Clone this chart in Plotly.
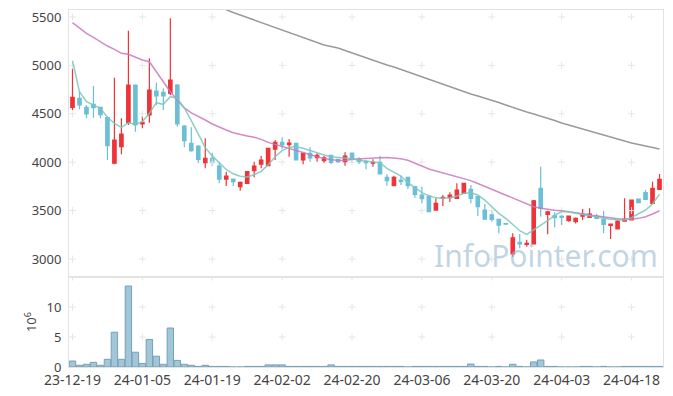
import plotly.graph_objects as go
from plotly.subplots import make_subplots

dates = ["23-12-19","23-12-20","23-12-21","23-12-22","23-12-26","23-12-27","23-12-28",
         "24-01-02","24-01-03","24-01-04","24-01-05","24-01-08","24-01-09","24-01-10","24-01-11","24-01-12",
         "24-01-15","24-01-16","24-01-17","24-01-18","24-01-19","24-01-22","24-01-23","24-01-24","24-01-25",
         "24-01-26","24-01-29","24-01-30","24-01-31","24-02-01","24-02-02","24-02-05","24-02-06","24-02-07",
         "24-02-08","24-02-13","24-02-14","24-02-15","24-02-16","24-02-19","24-02-20","24-02-21","24-02-22",
         "24-02-23","24-02-26","24-02-27","24-02-28","24-02-29","24-03-04","24-03-05","24-03-06","24-03-07",
         "24-03-08","24-03-11","24-03-12","24-03-13","24-03-14","24-03-15","24-03-18","24-03-19","24-03-20",
         "24-03-21","24-03-22","24-03-25","24-03-26","24-03-27","24-03-28","24-03-29","24-04-01","24-04-02",
         "24-04-03","24-04-04","24-04-05","24-04-08","24-04-09","24-04-11","24-04-12","24-04-15","24-04-16",
         "24-04-17","24-04-18","24-04-19","24-04-22","24-04-23","24-04-24"]

open_ = [4567,4660,4567,4598,4567,4460,3989,4160,4408,4797,4395,4488,4735,4722,4712,4797,4374,4195,4167,3995,
         4040,3961,3826,3826,3747,3782,3912,3981,3964,4136,4206,4181,4195,4023,4092,4046,4015,4071,4030,4005,
         4095,4030,4005,3989,3999,3844,3757,3816,3844,3747,3661,3651,3506,3630,3633,3627,3679,3720,3644,3506,
         3455,3410,3365,3052,3173,3152,3155,3730,3462,3447,3440,3396,3385,3444,3431,3444,3410,3348,3310,3392,
         3403,3620,3685,3575,3720]
high = [4970,4728,4591,4787,4574,4470,4873,4453,5358,4797,4477,5073,4821,4763,5486,4808,4384,4360,4175,4247,
        4098,4005,3902,3830,3800,3909,4005,4064,4150,4229,4257,4240,4200,4095,4154,4092,4064,4075,4035,4102,
        4100,4050,4023,4030,4067,3875,3860,3860,3850,3750,3747,3651,3627,3661,3689,3782,3785,3764,3650,3568,
        3506,3415,3368,3265,3258,3196,3610,3953,3499,3482,3455,3450,3430,3517,3524,3465,3496,3365,3400,3627,
        3615,3625,3713,3799,3878]
low = [4539,4546,4453,4460,4453,4023,3978,4081,4384,4315,4350,4408,4591,4539,4694,4367,4154,4108,3989,3937,
       3961,3782,3754,3754,3705,3775,3844,3937,3964,4023,4133,4057,4020,3978,4005,4005,3995,3981,3995,3964,
       3995,3981,3927,3954,3875,3757,3757,3764,3723,3633,3575,3489,3506,3547,3589,3627,3679,3575,3444,3413,
       3385,3265,3358,3024,3111,3127,3150,3437,3255,3327,3351,3385,3368,3403,3430,3410,3265,3207,3305,3390,
       3403,3580,3615,3575,3715]
close = [4670,4591,4498,4563,4491,4170,4229,4291,4797,4384,4412,4746,4684,4684,4849,4395,4222,4119,4030,4040,
         3995,3826,3857,3799,3792,3902,3961,4023,4144,4206,4178,4198,4023,4092,4045,4071,4046,3999,4002,4064,
         4030,4005,3995,3999,3878,3809,3844,3799,3757,3668,3623,3489,3575,3637,3661,3713,3782,3627,3540,3413,
         3410,3351,3360,3220,3155,3162,3602,3524,3486,3427,3430,3444,3420,3465,3465,3420,3358,3362,3392,3413,
         3609,3582,3617,3730,3823]

ma5 = [5049,4728,4625,4591,4557,4464,4402,4360,4408,4391,4418,4505,4615,4598,4677,4660,4560,4430,4290,4150,
       4065,3990,3925,3880,3855,3848,3870,3905,3975,4057,4119,4154,4160,4144,4119,4092,4074,4057,4050,4040,
       4035,4020,4012,4008,3995,3937,3896,3857,3788,3735,3685,3655,3632,3627,3633,3650,3679,3685,3661,3609,
       3540,3472,3420,3351,3292,3255,3300,3351,3396,3450,3490,3486,3472,3462,3447,3437,3420,3410,3403,3403,
       3427,3465,3506,3568,3671]
ma20 = [5441,5390,5331,5290,5245,5200,5166,5125,5114,5083,5056,5038,4935,4820,4728,4643,4560,4510,4477,4436,
        4395,4360,4333,4305,4284,4271,4257,4236,4205,4185,4165,4145,4125,4100,4080,4055,4040,4025,4020,4018,
        4030,4032,4036,4040,4045,4048,4045,4035,4020,3990,3960,3930,3910,3890,3875,3855,3835,3810,3780,3750,
        3727,3697,3667,3637,3605,3572,3540,3525,3513,3505,3498,3490,3478,3468,3455,3444,3432,3422,3415,3410,
        3410,3420,3437,3465,3499]
ma_long = [None]*20 + [5634,5603,5572,5546,5520,5494,5469,5443,5417,5391,5366,5340,5314,5288,5262,5237,5211,
           5195,5180,5154,5128,5102,5076,5050,5025,5004,4983,4957,4932,4906,4880,4854,4828,4802,4777,4751,
           4725,4704,4684,4663,4643,4617,4591,4565,4539,4518,4498,4477,4457,4431,4405,4384,4364,4343,4322,
           4302,4281,4260,4240,4219,4198,4183,4167,4152,4136]

volume_m = [1.0,0.28,0.45,0.78,0.28,1.28,5.8,1.28,13.5,2.46,0.6,4.6,1.8,0.45,6.5,1.1,0.45,0.28,0.1,0.28,
            0.1,0.1,0.1,0,0,0.1,0.1,0.1,0.35,0.35,0.35,0.1,0.1,0.1,0.1,0.1,0.1,0.35,0.1,0.1,
            0.1,0.1,0.1,0.1,0.1,0.1,0.1,0.1,0,0.1,0.1,0.1,0.1,0.1,0.1,0.1,0.1,0.5,0.1,0.1,
            0,0.1,0,0.45,0.1,0,0.84,1.17,0.1,0.1,0,0,0,0.1,0.1,0,0.1,0,0,0.1,
            0.1,0.1,0.1,0.1,0.1]

price_ticks = [3000, 3500, 4000, 4500, 5000, 5500]
vol_ticks = [0, 5, 10]
vol_grid = [5, 10, 15]
x_ticks = dates[::10]

UP = "#ee3339"
DOWN = "#6bbfd7"
FONT = "Noto Sans"

fig = make_subplots(rows=2, cols=1, shared_xaxes=True, vertical_spacing=0,
                    row_heights=[0.748, 0.252])

fig.add_trace(go.Scatter(x=dates, y=ma_long, mode="lines", line=dict(color="#9a9a9a", width=1.5),
                         showlegend=False, connectgaps=False), row=1, col=1)
fig.add_trace(go.Bar(x=dates, y=volume_m, showlegend=False,
                     marker=dict(color="rgba(140,184,205,0.8)", line=dict(color="rgba(115,160,186,1)", width=1))),
              row=2, col=1)

# grid crosses
gx = [d for d in x_ticks for _ in price_ticks]
gy = [p for _ in x_ticks for p in price_ticks]
fig.add_trace(go.Scatter(x=gx, y=gy, mode="markers", hoverinfo="skip", showlegend=False,
                         marker=dict(symbol="cross-thin", size=5, line=dict(color="#e6e6e6", width=1))),
              row=1, col=1)
vx = [d for d in x_ticks for _ in vol_grid]
vy = [v for _ in x_ticks for v in vol_grid]
fig.add_trace(go.Scatter(x=vx, y=vy, mode="markers", hoverinfo="skip", showlegend=False,
                         marker=dict(symbol="cross-thin", size=5, line=dict(color="#e6e6e6", width=1))),
              row=2, col=1)

fig.add_trace(go.Scatter(x=dates, y=ma20, mode="lines", line=dict(color="rgba(200,120,190,0.85)", width=1.5),
                         showlegend=False), row=1, col=1)
fig.add_trace(go.Scatter(x=dates, y=ma5, mode="lines", line=dict(color="rgba(120,200,185,0.85)", width=1.5),
                         showlegend=False), row=1, col=1)

fig.add_trace(go.Candlestick(x=dates, open=open_, high=high, low=low, close=close,
                             increasing=dict(line=dict(color=UP, width=1.2), fillcolor=UP),
                             decreasing=dict(line=dict(color=DOWN, width=1.2), fillcolor=DOWN),
                             whiskerwidth=0, showlegend=False), row=1, col=1)

axis_line = "#e3e3e3"
fig.update_xaxes(type="category", categoryorder="array", categoryarray=dates,
                 range=[-0.5, len(dates) - 0.5], showgrid=False, automargin=False,
                 showline=True, mirror=True, linecolor=axis_line, linewidth=1,
                 rangeslider=dict(visible=False), zeroline=False, ticklabeloverflow="allow",
                 tickmode="array", tickvals=x_ticks, ticktext=x_ticks, ticks="", tickangle=0,
                 tickfont=dict(family=FONT, size=14, color="#444"))
fig.update_xaxes(showticklabels=False, row=1, col=1)
fig.update_yaxes(range=[2814, 5572], tickvals=price_ticks, showgrid=False, zeroline=False,
                 showline=True, mirror=True, linecolor=axis_line, ticks="outside", ticklen=4,
                 automargin=False, ticklabeloverflow="allow",
                 tickcolor="rgba(0,0,0,0)", tickfont=dict(family=FONT, size=13, color="#444"),
                 row=1, col=1)
fig.update_yaxes(range=[0, 15], tickvals=vol_ticks, showgrid=False, zeroline=False,
                 showline=True, mirror=True, linecolor=axis_line, ticks="outside", ticklen=4,
                 automargin=False, ticklabeloverflow="allow",
                 tickcolor="rgba(0,0,0,0)", tickfont=dict(family=FONT, size=13, color="#444"),
                 title=dict(text="10<sup>6</sup>", font=dict(family=FONT, size=13, color="#444"), standoff=6),
                 row=2, col=1)

fig.add_annotation(text="InfoPointer.com", xref="paper", yref="paper", x=0.803, y=0.311,
                   xanchor="center", yanchor="middle",
                   showarrow=False, font=dict(family=FONT, size=30, color="rgba(150,185,210,0.6)"))

fig.update_layout(width=665, height=388, margin=dict(l=61, r=10, t=2, b=29, autoexpand=False),
                  paper_bgcolor="white", plot_bgcolor="white", bargap=0.08,
                  hovermode=False)

fig.write_html("out.html")
